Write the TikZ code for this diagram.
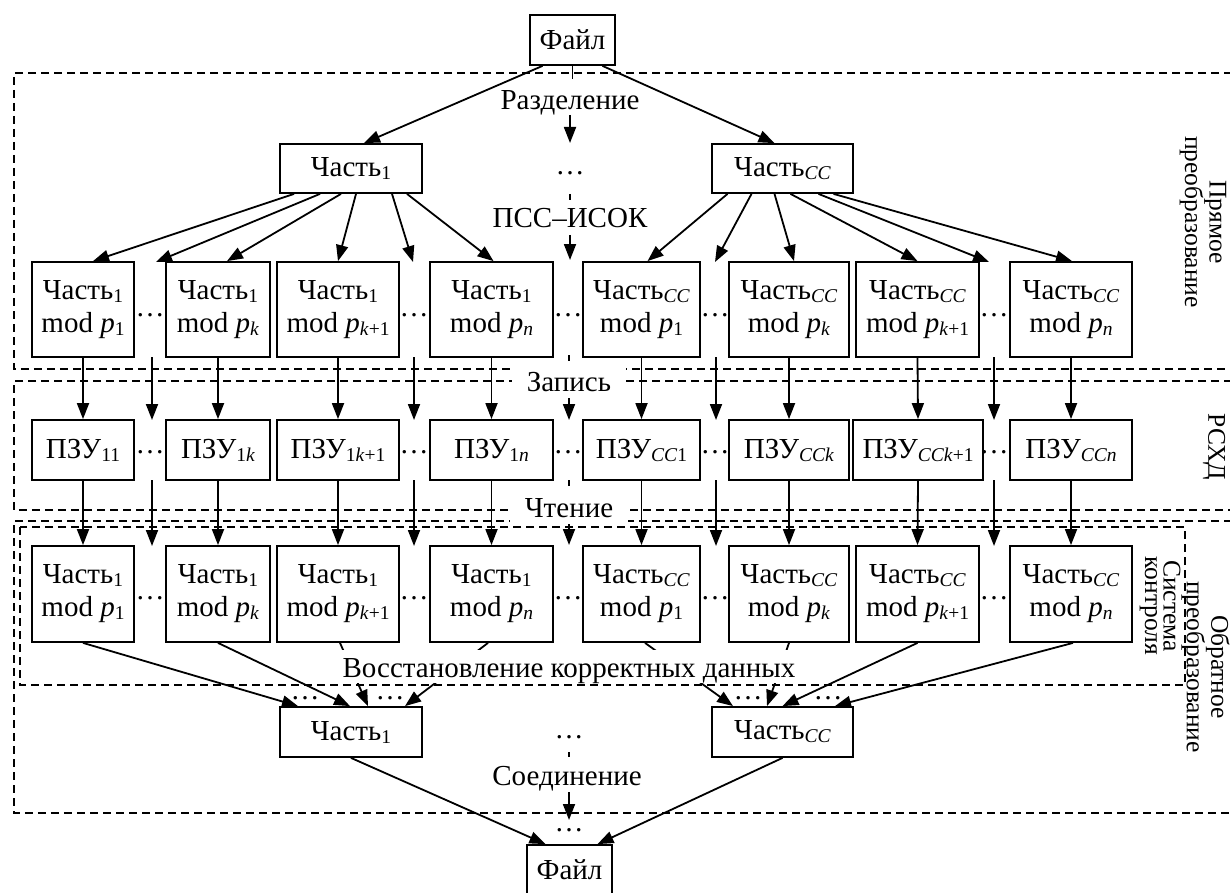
\documentclass[tikz,border=0pt]{standalone}
\usepackage{fontspec}
\setmainfont{Liberation Serif}
\usetikzlibrary{arrows.meta}
\newcommand\sbs[1]{\raisebox{-3pt}{\fontsize{19.5}{19.5}\selectfont #1}}
\begin{document}
\begin{tikzpicture}[x=1pt,y=-1pt,
  every node/.style={font=\fontsize{29}{33}\selectfont, inner sep=0pt},
  bx/.style={draw, line width=1.8pt, align=center},
  arr/.style={line width=1.8pt, -{Triangle[length=16pt,width=12pt]}},
  ln/.style={line width=1.8pt},
  dsh/.style={line width=1.5pt, dash pattern=on 8pt off 5pt},
  lbl/.style={fill=white, inner xsep=15pt, inner ysep=0pt, anchor=base},
  side/.style={rotate=-90, align=center, font=\fontsize{25.5}{18.5}\selectfont}]
\useasboundingbox (0,0) rectangle (1230,893);

% ---------- dashed regions ----------
\draw[dsh] (1232,73) -- (14,73) -- (14,369) -- (1232,369);
\draw[dsh] (1232,381) -- (14,381) -- (14,510) -- (1232,510);
\draw[dsh] (1232,521) -- (14,521) -- (14,813) -- (1232,813);

% ---------- top ----------
\node[bx, minimum width=85pt, minimum height=50pt] (f0) at (572.5,40) {Файл};
\node[bx, minimum width=142pt, minimum height=49pt] (t1) at (351,168.5) {Часть\sbs{1}};
\node[bx, minimum width=141pt, minimum height=49pt] (tc) at (782.5,168.5) {Часть\sbs{\textit{CC}}};

% ---------- row 1 ----------
\foreach \n/\x/\w/\t in {
  a1/83/102/{Часть\sbs{1}\\mod \textit{p}\sbs{1}},
  a2/218/104/{Часть\sbs{1}\\mod \textit{p}\sbs{\textit{k}}},
  a3/338/122/{Часть\sbs{1}\\mod \textit{p}\sbs{\textit{k}+1}},
  a4/491.5/123/{Часть\sbs{1}\\mod \textit{p}\sbs{\textit{n}}},
  a5/641.5/117/{Часть\sbs{\textit{CC}}\\mod \textit{p}\sbs{1}},
  a6/789/120/{Часть\sbs{\textit{CC}}\\mod \textit{p}\sbs{\textit{k}}},
  a7/917.5/123/{Часть\sbs{\textit{CC}}\\mod \textit{p}\sbs{\textit{k}+1}},
  a8/1071/122/{Часть\sbs{\textit{CC}}\\mod \textit{p}\sbs{\textit{n}}}}
  \node[bx, minimum width=\w pt, minimum height=95pt] (\n) at (\x,309.5) {\t};

% ---------- row 2 ----------
\foreach \n/\x/\w/\t in {
  z1/83/102/{ПЗУ\sbs{11}},
  z2/218/104/{ПЗУ\sbs{1\textit{k}}},
  z3/338/122/{ПЗУ\sbs{1\textit{k}+1}},
  z4/491.5/123/{ПЗУ\sbs{1\textit{n}}},
  z5/641.5/117/{ПЗУ\sbs{\textit{CC}1}},
  z6/789/120/{ПЗУ\sbs{\textit{CCk}}},
  z7/918/130/{ПЗУ\sbs{\textit{CCk}+1}},
  z8/1071/122/{ПЗУ\sbs{\textit{CCn}}}}
  \node[bx, minimum width=\w pt, minimum height=60pt] (\n) at (\x,450) {\t};

% ---------- row 3 ----------
\foreach \n/\x/\w/\t in {
  b1/83/102/{Часть\sbs{1}\\mod \textit{p}\sbs{1}},
  b2/218/104/{Часть\sbs{1}\\mod \textit{p}\sbs{\textit{k}}},
  b3/338/122/{Часть\sbs{1}\\mod \textit{p}\sbs{\textit{k}+1}},
  b4/491.5/123/{Часть\sbs{1}\\mod \textit{p}\sbs{\textit{n}}},
  b5/641.5/117/{Часть\sbs{\textit{CC}}\\mod \textit{p}\sbs{1}},
  b6/789/120/{Часть\sbs{\textit{CC}}\\mod \textit{p}\sbs{\textit{k}}},
  b7/917.5/123/{Часть\sbs{\textit{CC}}\\mod \textit{p}\sbs{\textit{k}+1}},
  b8/1071/122/{Часть\sbs{\textit{CC}}\\mod \textit{p}\sbs{\textit{n}}}}
  \node[bx, minimum width=\w pt, minimum height=96pt] (\n) at (\x,594) {\t};

% ---------- bottom ----------
\node[bx, minimum width=142pt, minimum height=50pt] (u1) at (351,732) {Часть\sbs{1}};
\node[bx, minimum width=141pt, minimum height=50pt] (uc) at (782.5,732) {Часть\sbs{\textit{CC}}};
\node[bx, minimum width=85pt, minimum height=50pt] (f1) at (569.5,870) {Файл};

% ---------- dots ----------
\foreach \x/\y/\nm in {150/315/d11, 414/315/d12, 568/315/d13, 715/315/d14, 994/315/d15,
  150/452/d21, 414/452/d22, 568/452/d23, 715/452/d24, 994/452/d25,
  150/598/d31, 414/598/d32, 568/598/d33, 715/598/d34, 994/598/d35,
  570/173/dt, 569/737/db, 569/830/dbb,
  305/698/dc1, 390/698/dc2, 748/698/dc3, 828/698/dc4}
  \node (\nm) at (\x,\y) {\ldots};

% ---------- top fan ----------
\draw[arr] ([xshift=-30pt]f0.south) -- ([xshift=13pt]t1.north);
\draw[arr] ([xshift=30pt]f0.south) -- ([xshift=-8pt]tc.north);

\coordinate (g1) at (156,262);
\coordinate (g2) at (413,262);
\coordinate (g3) at (715,262);
\coordinate (g4) at (989,262);
\draw[arr] ([xshift=-57pt]t1.south) -- ([xshift=10pt]a1.north);
\draw[arr] ([xshift=-31pt]t1.south) -- (g1);
\draw[arr] ([xshift=-10pt]t1.south) -- ([xshift=9pt]a2.north);
\draw[arr] ([xshift=5pt]t1.south) -- (a3.north);
\draw[arr] ([xshift=41pt]t1.south) -- (g2);
\draw[arr] ([xshift=56pt]t1.south) -- ([xshift=2pt]a4.north);

\draw[arr] ([xshift=-55pt]tc.south) -- ([xshift=6pt]a5.north);
\draw[arr] ([xshift=-31pt]tc.south) -- (g3);
\draw[arr] ([xshift=-8pt]tc.south) -- ([xshift=5pt]a6.north);
\draw[arr] ([xshift=8pt]tc.south) -- (a7.north);
\draw[arr] ([xshift=36pt]tc.south) -- (g4);
\draw[arr] ([xshift=51pt]tc.south) -- ([xshift=1pt]a8.north);

% ---------- row arrows ----------
\foreach \i in {1,...,8} {
  \draw[arr] (a\i.south) -- (z\i.north);
  \draw[arr] (z\i.south) -- (b\i.north);
}
\foreach \x in {152,414,716,994} {
  \draw[arr] (\x,357) -- (\x,420);
  \draw[arr] (\x,480) -- (\x,546);
}

% ---------- converge ----------
\draw[arr] (b1.south) -- ([xshift=-53pt]u1.north);
\draw[arr] (b2.south) -- ([xshift=-1pt]u1.north);
\draw[arr] ([xshift=2pt]b3.south) -- ([xshift=17pt]u1.north);
\draw[arr] ([xshift=-3.5pt]b4.south) -- ([xshift=54pt]u1.north);
\draw[arr] ([xshift=3.5pt]b5.south) -- ([xshift=-49.5pt]uc.north);
\draw[arr] (b6.south) -- ([xshift=-15.5pt]uc.north);
\draw[arr] (b7.south) -- (uc.north);
\draw[arr] ([xshift=2pt]b8.south) -- ([xshift=52.5pt]uc.north);

\draw[arr] (u1.south) -- ([xshift=-24pt]f1.north);
\draw[arr] (uc.south) -- ([xshift=28pt]f1.north);

% ---------- centre labels ----------
\node[anchor=base] (razd) at (570,110) {Разделение};
\node[anchor=base] (psc) at (570,228) {ПСС–ИСОК};
\node[lbl, text height=24pt, text depth=6pt] (zap) at (569,391) {Запись};
\node[lbl, text height=22pt, text depth=6pt] (cht) at (569,517) {Чтение};
\node[lbl, inner xsep=3pt, text height=27pt, text depth=6pt] (vost) at (569,677) {Восстановление корректных данных};
\node[anchor=base] (soed) at (567,785) {Соединение};

\draw[ln] (f0.south) -- ++(0,13);
\draw[arr] (570,115) -- (570,143);
\draw[ln] (570,194) -- (570,200);
\draw[arr] (570,235) -- (570,260);
\draw[ln] (569,355) -- (569,361);
\draw[arr] (569,398) -- (569,420);
\draw[ln] (569,480) -- (569,486);
\draw[arr] (569,524) -- (569,545);
\draw[ln] (569,752) -- (569,757);
\draw[arr] (569,792) -- (569,820);

% ---------- control-system box ----------
\draw[dsh] (20,527) rectangle (1185,685);

% ---------- side labels ----------
\node[side] (lpr) at (1203,222) {Прямое\\преобразование};
\node[side] (lrs) at (1214,447) {РСХД};
\node[side] (lob) at (1205.5,667) {Обратное\\преобразование};
\node[side] (lsk) at (1160,606) {Система\\контроля};
\end{tikzpicture}
\end{document}
